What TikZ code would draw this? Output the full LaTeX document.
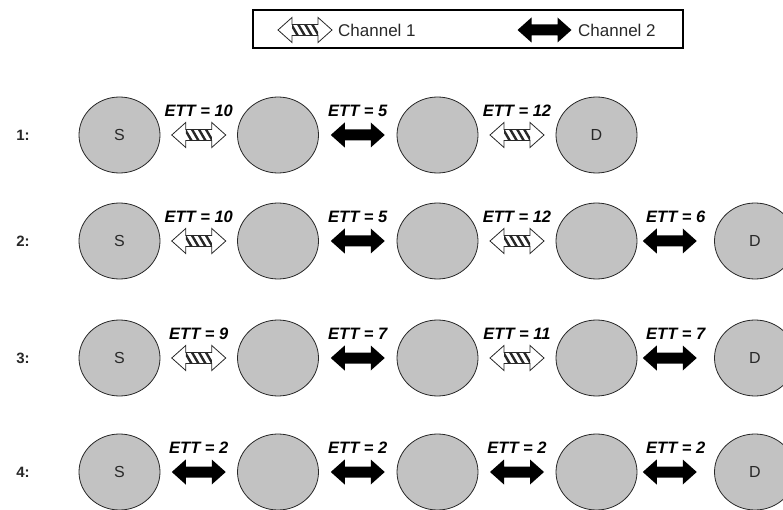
\documentclass[tikz,border=0pt]{standalone}
\usepackage{fontspec}
\setmainfont{Liberation Sans}
\usetikzlibrary{calc,shapes.geometric}

\definecolor{nodegray}{RGB}{194,194,194}
\definecolor{inkgray}{RGB}{40,40,40}

\tikzset{
  station/.style={ellipse, draw=inkgray, line width=0.8pt, fill=nodegray,
    minimum width=81pt, minimum height=76pt, inner sep=0pt,
    font=\fontsize{16}{18}\selectfont, text=inkgray},
  rowlabel/.style={inner sep=0pt, font=\bfseries\fontsize{15}{17}\selectfont, text=inkgray},
  ett/.style={inner sep=0pt, font=\bfseries\itshape\fontsize{16.5}{18}\selectfont},
  legendtext/.style={inner sep=0pt, anchor=west, font=\fontsize{17}{19}\selectfont, text=inkgray},
  legendbox/.style={draw=black, line width=1.1pt, minimum width=430pt, minimum height=38pt, inner sep=0pt},
  % channel 1: white double arrow with diagonal hatching in the shaft
  pics/chone/.style={code={
    \path[fill=white, draw=inkgray, line width=0.8pt]
      (-27,0) -- (-13,-12.5) -- (-13,-5.5) -- (13,-5.5) -- (13,-12.5) -- (27,0)
      -- (13,12.5) -- (13,5.5) -- (-13,5.5) -- (-13,12.5) -- cycle;
    \begin{scope}
      \clip (-13,-5.5) rectangle (13,5.5);
      \foreach \s in {-10.5,-3.5,3.5,10.5}
        \draw[line width=2.4pt, inkgray] (\s-3.5,-6) -- (\s+3.5,6);
    \end{scope}
  }},
  % channel 2: solid black double arrow
  pics/chtwo/.style={code={
    \fill[black]
      (-27,0) -- (-13,-12.5) -- (-13,-5.5) -- (13,-5.5) -- (13,-12.5) -- (27,0)
      -- (13,12.5) -- (13,5.5) -- (-13,5.5) -- (-13,12.5) -- cycle;
  }},
}

\begin{document}
\begin{tikzpicture}[x=1pt, y=-1pt]
  \useasboundingbox (0,0) rectangle (783,510);

  % legend
  \node[legendbox] (legend) at (468,29) {};
  \pic at (305,30) {chone};
  \node[legendtext] (leg1) at (338,30) {Channel 1};
  \pic at (544.5,30) {chtwo};
  \node[legendtext] (leg2) at (578,30) {Channel 2};

  % stations of the four paths
  \foreach \r/\y in {1/135,2/241,3/358,4/472} {
    \node[rowlabel] (lab\r) at (23,\y) {\r:};
    \node[station] (n\r1) at (119.5,\y) {S};
    \node[station] (n\r2) at (278,\y) {};
    \node[station] (n\r3) at (437.5,\y) {};
  }
  \node[station] (n14) at (596.5,135) {D};
  \foreach \r/\y in {2/241,3/358,4/472} {
    \node[station] (n\r4) at (596.5,\y) {};
    \node[station] (n\r5) at (755,\y) {D};
  }

  % links on channel 1
  \foreach \r/\a/\b/\v/\dx in {1/1/2/10/0, 1/3/4/12/0, 2/1/2/10/0, 2/3/4/12/0,
                               3/1/2/9/0, 3/3/4/11/0} {
    \pic at ($(n\r\a)!0.5!(n\r\b)+(\dx,0)$) {chone};
    \node[ett] (e\r\a) at ($(n\r\a)!0.5!(n\r\b)+(0,-24)$) {ETT = \v};
  }
  % links on channel 2
  \foreach \r/\a/\b/\v/\dx in {1/2/3/5/0, 2/2/3/5/0, 2/4/5/6/-6,
                               3/2/3/7/0, 3/4/5/7/-6,
                               4/1/2/2/0, 4/2/3/2/0, 4/3/4/2/0, 4/4/5/2/-6} {
    \pic at ($(n\r\a)!0.5!(n\r\b)+(\dx,0)$) {chtwo};
    \node[ett] (e\r\a) at ($(n\r\a)!0.5!(n\r\b)+(0,-24)$) {ETT = \v};
  }
\end{tikzpicture}
\end{document}
